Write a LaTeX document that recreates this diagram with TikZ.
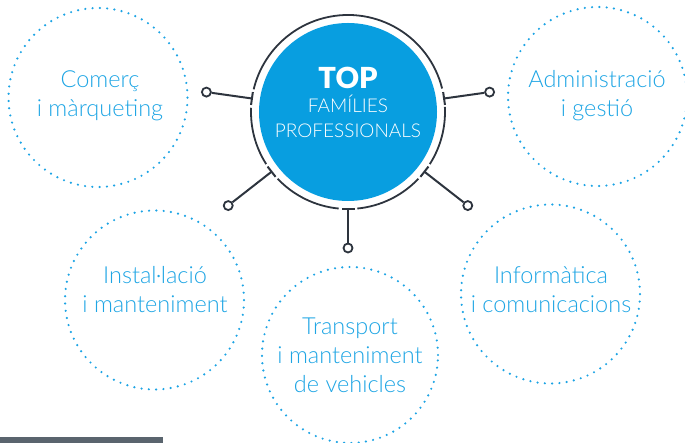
\documentclass[tikz,border=0pt]{standalone}
\usepackage{fontspec}
\setmainfont{Lato}[UprightFont=* Light, BoldFont=* Black]
\usetikzlibrary{calc}
\definecolor{coreblue}{RGB}{8,158,224}
\definecolor{dotblue}{RGB}{28,163,228}
\definecolor{txtblue}{RGB}{30,165,228}
\definecolor{darkline}{RGB}{45,52,62}
\definecolor{barcol}{RGB}{90,100,110}
\begin{document}
\begin{tikzpicture}[x=1pt,y=1pt,
  dotc/.style={circle, draw=dotblue, line width=2.4pt, dash pattern=on 0pt off 7.3pt, line cap=round, minimum size=179pt, inner sep=0pt},
  lbl/.style={text=txtblue, align=center, font=\fontsize{23.5}{29}\selectfont, anchor=base, inner sep=0pt},
  knob/.style={circle, draw=darkline, line width=1.8pt, minimum size=9pt, inner sep=0pt, fill=white},
  wire/.style={draw=darkline, line width=2pt},
  ring/.style={draw=darkline, line width=1.8pt},
  corefill/.style={circle, fill=coreblue, minimum size=178pt, inner sep=0pt}]
\useasboundingbox (0,0) rectangle (685,443);
\fill[barcol] (0,0) rectangle (163,6);
% central disc
\node[corefill] (core) at (348,331) {};
\foreach \a/\b in {14/166.5, 177.5/212.5, 223.5/264.5, 275.5/316.5, 327.5/363}
  \draw[ring] ($(core.center)+(\a:97pt)$) arc[start angle=\a, end angle=\b, radius=97pt];
\node[anchor=base, text=white, inner sep=0pt, font=\fontsize{29}{29}\selectfont\bfseries] (toplbl) at (348,354) {TOP};
\node[anchor=base, text=white, inner sep=0pt, align=center, font=\fontsize{19}{25}\selectfont] (famlbl) at (348,305) {FAMÍLIES\\PROFESSIONALS};
% connectors
\foreach \n/\a/\d in {l/172/143, r/8/143, ll/218/152, b/270/136, lr/322/152} {
  \coordinate (t\n) at ($(core.center)+(\a:97pt)$);
  \node[knob] (k\n) at ($(core.center)+(\a:\d pt)$) {};
  \draw[wire] (t\n) -- (k\n);
  \draw[wire] ($(t\n)+(\a+90:6.5pt)$) -- ($(t\n)+(\a-90:6.5pt)$);
}
% dotted circles
\node[dotc] (comerc) at (98,345.5) {};
\node[dotc] (admin) at (597.5,346.5) {};
\node[dotc] (instal) at (154.5,143) {};
\node[dotc, minimum size=176pt] (transp) at (350,88) {};
\node[dotc] (inform) at (550.5,149) {};
\node[lbl] (comerctxt) at (100,326) {Comerç\\i màrqueting};
\node[lbl] (admintxt) at (597,326) {Administració\\i gestió};
\node[lbl] (instaltxt) at (155,130) {Instal·lació\\i manteniment};
\node[lbl] (transptxt) at (350,50) {Transport\\i manteniment\\de vehicles};
\node[lbl] (informtxt) at (551,130) {Informàtica\\i comunicacions};
\end{tikzpicture}
\end{document}
